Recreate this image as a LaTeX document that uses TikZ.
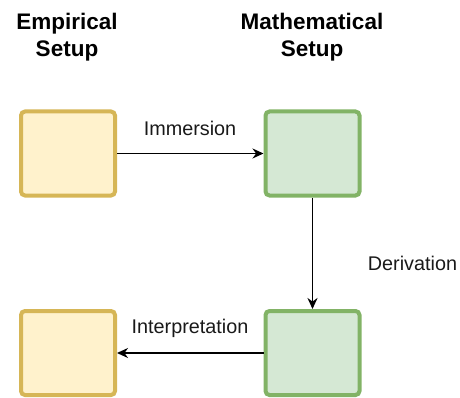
\documentclass[tikz,border=0pt]{standalone}
\usepackage{fontspec}
\setmainfont{Liberation Sans}
\usetikzlibrary{arrows.meta}
\definecolor{yfill}{HTML}{FFF2CC}
\definecolor{ydraw}{HTML}{D6B656}
\definecolor{gfill}{HTML}{D5E8D4}
\definecolor{gdraw}{HTML}{82B366}
\tikzset{
  box/.style={rectangle, rounded corners=4pt, line width=4pt, minimum width=94pt, minimum height=84pt, inner sep=0pt},
  ybox/.style={box, draw=ydraw, fill=yfill},
  gbox/.style={box, draw=gdraw, fill=gfill},
  hdr/.style={font=\fontsize{22.5}{27}\selectfont\bfseries, align=center, inner sep=0pt},
  lbl/.style={font=\fontsize{19.8}{23}\selectfont, inner sep=0pt, text=black!90},
  conn/.style={line width=1.8pt, -{Stealth[length=11pt,width=10pt]}}
}
\begin{document}
\begin{tikzpicture}[x=1pt,y=-1pt]
\useasboundingbox (0,0) rectangle (460,398);
\node[hdr] (h1) at (67,37) {Empirical\\Setup};
\node[hdr] (h2) at (312,37) {Mathematical\\Setup};
\node[ybox] (e1) at (68,153.5) {};
\node[gbox] (m1) at (312.5,153.5) {};
\node[gbox] (m2) at (312.5,353) {};
\node[ybox] (e2) at (68,353) {};
\draw[conn] (e1.east) -- (m1.west);
\draw[conn] (m1.south) -- (m2.north);
\draw[conn] (m2.west) -- (e2.east);
\node[lbl] (l1) at (190,128) {Immersion};
\node[lbl] (l2) at (412.5,263) {Derivation};
\node[lbl] (l3) at (190,328) {Interpretation};
\end{tikzpicture}
\end{document}
